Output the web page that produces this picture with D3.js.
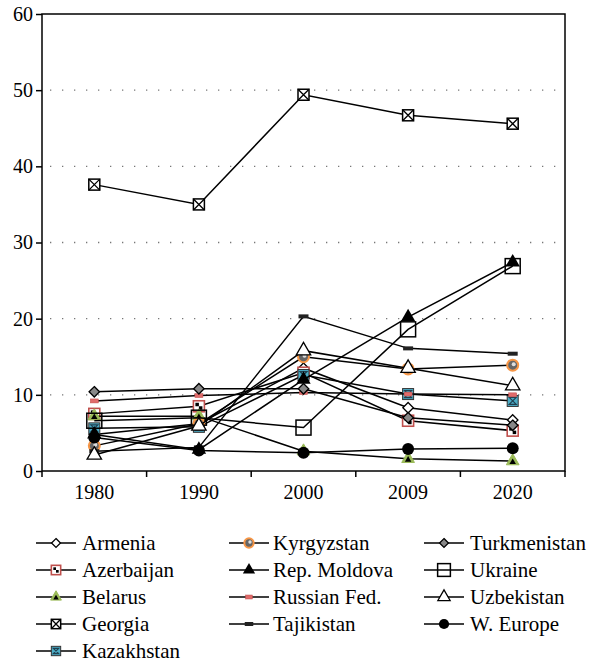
<!DOCTYPE html>
<html><head><meta charset="utf-8">
<script src="https://cdn.jsdelivr.net/npm/d3@7"></script>
<style>body{margin:0;background:#fff}svg{display:block}</style>
</head><body><svg id="c" width="591" height="663" style='font-family:"Liberation Serif"'></svg>
<script>
const years = ["1980","1990","2000","2009","2020"];
const yTicks = [0,10,20,30,40,50,60];
const seriesNames = ["Armenia","Azerbaijan","Belarus","Georgia","Kazakhstan","Kyrgyzstan","Rep. Moldova","Russian Fed.","Tajikistan","Turkmenistan","Ukraine","Uzbekistan","W. Europe"];
const armenia      = [4.8, 6.2, 13.5, 8.3, 6.7];
const azerbaijan   = [7.5, 8.5, 12.9, 6.6, 5.3];
const belarus      = [7.2, 7.2, 2.6, 1.6, 1.3];
const georgia      = [37.6, 35.0, 49.4, 46.7, 45.6];
const kazakhstan   = [5.6, 5.8, 12.6, 10.1, 9.2];
const kyrgyzstan   = [3.3, 6.2, 15.0, 13.4, 13.9];
const moldova      = [4.8, 2.8, 12.0, 20.2, 27.4];
const russia       = [9.2, 9.9, 10.3, 10.1, 10.0];
const tajikistan   = [2.6, 3.1, 20.3, 16.1, 15.4];
const turkmenistan = [10.4, 10.8, 10.8, 7.0, 6.0];
const ukraine      = [6.6, 7.0, 5.7, 18.6, 26.9];
const uzbekistan   = [2.1, 5.9, 15.8, 13.5, 11.2];
const weurope      = [4.4, 2.7, 2.4, 2.9, 3.0];
const seriesValues = [armenia, azerbaijan, belarus, georgia, kazakhstan, kyrgyzstan, moldova, russia, tajikistan, turkmenistan, ukraine, uzbekistan, weurope];
const markerTypes = ["diamondOpen","azer","belarus","georgia","kazak","kyrgyz","triFilled","russia","tajik","turkmen","squareOpen","triOpen","circleFilled"];

const FONT = '"Liberation Serif"';
const svg = d3.select("#c");
const L = 42, R = 565, T = 14, B = 471;
const x = d3.scaleBand().domain(years).range([L, R]);
const y = d3.scaleLinear().domain([0, 60]).range([B, T]);
const cx = d => x(d) + x.bandwidth() / 2;

// grid
svg.append("g").selectAll("line").data(yTicks.filter(v => v > 0 && v < 60)).join("line")
  .attr("x1", L + 8).attr("x2", R).attr("y1", d => y(d)).attr("y2", d => y(d))
  .attr("stroke", "#777").attr("stroke-width", 1.3).attr("stroke-dasharray", "1.3,10.7");

// frame
svg.append("rect").attr("x", L).attr("y", T).attr("width", R - L).attr("height", B - T)
  .attr("fill", "none").attr("stroke", "#000").attr("stroke-width", 1.5);

// y axis
const yAxis = d3.axisLeft(y).tickValues(yTicks).tickSize(6).tickPadding(3).tickFormat(d3.format("d"));
const gy = svg.append("g").attr("transform", `translate(${L},0)`).call(yAxis);
gy.attr("font-family", null).attr("font-size", null);
gy.select(".domain").remove();
gy.selectAll("line").attr("stroke-width", 1.5);
gy.selectAll("text").style("font-family", FONT).style("font-size", "20px").attr("fill", "#000");

// x axis
const xAxis = d3.axisBottom(x).tickSize(0).tickPadding(14);
const gx = svg.append("g").attr("transform", `translate(0,${B})`).call(xAxis);
gx.attr("font-family", null).attr("font-size", null);
gx.select(".domain").remove();
gx.selectAll("text").style("font-family", FONT).style("font-size", "20px").attr("fill", "#000");
svg.append("g").selectAll("line").data(years.map(d => x(d)).concat([R])).join("line")
  .attr("x1", d => d).attr("x2", d => d).attr("y1", B).attr("y2", B + 6)
  .attr("stroke", "#000").attr("stroke-width", 1.5);

function drawMarker(g, type, k) {
  switch (type) {
    case "diamondOpen":
      g.append("path").attr("d", d3.symbol(d3.symbolDiamond2, 70 * k * k)).attr("fill", "#fff").attr("stroke", "#000").attr("stroke-width", 1.3);
      break;
    case "turkmen":
      g.append("path").attr("d", d3.symbol(d3.symbolDiamond2, 70 * k * k)).attr("fill", "#888").attr("stroke", "#000").attr("stroke-width", 1.3);
      break;
    case "azer": {
      const h = 5.5 * k;
      g.append("rect").attr("x", -h).attr("y", -h).attr("width", 2 * h).attr("height", 2 * h).attr("fill", "#fff").attr("stroke", "#c0504d").attr("stroke-width", 1.6);
      g.append("rect").attr("x", -h + 2).attr("y", -h + 2).attr("width", h - 2).attr("height", h - 2).attr("fill", "#000");
      g.append("rect").attr("x", 0).attr("y", 0).attr("width", h - 2).attr("height", h - 2).attr("fill", "#000");
      break; }
    case "belarus":
      g.append("path").attr("d", d3.symbol(d3.symbolTriangle, 70 * k * k)).attr("fill", "#9bbb59").attr("stroke", "#9bbb59").attr("stroke-width", 1);
      g.append("path").attr("d", d3.symbol(d3.symbolTriangle, 18 * k * k)).attr("transform", "translate(0,1)").attr("fill", "#000");
      break;
    case "georgia": {
      const h = 5.5 * k;
      g.append("rect").attr("x", -h).attr("y", -h).attr("width", 2 * h).attr("height", 2 * h).attr("fill", "#fff").attr("stroke", "#000").attr("stroke-width", 1.5);
      g.append("path").attr("d", `M${-h},${-h}L${h},${h}M${h},${-h}L${-h},${h}`).attr("stroke", "#000").attr("stroke-width", 1.3);
      break; }
    case "kazak": {
      const h = 5.5 * k;
      g.append("rect").attr("x", -h).attr("y", -h).attr("width", 2 * h).attr("height", 2 * h).attr("fill", "#4bacc6").attr("stroke", "#333").attr("stroke-width", 1);
      g.append("path").attr("d", `M${-h + 2},${-h + 2}L${h - 2},${-h + 2}L${-h + 2},${h - 2}L${h - 2},${h - 2}Z`).attr("fill", "none").attr("stroke", "#1f3f4f").attr("stroke-width", 1.2);
      break; }
    case "kyrgyz":
      g.append("circle").attr("r", 5.5 * k).attr("fill", "#666").attr("stroke", "#f79646").attr("stroke-width", 2);
      g.append("circle").attr("r", 2 * k).attr("cx", 1).attr("cy", -1).attr("fill", "#ddd");
      break;
    case "triFilled":
      g.append("path").attr("d", d3.symbol(d3.symbolTriangle, 90 * k * k)).attr("fill", "#000");
      break;
    case "triOpen":
      g.append("path").attr("d", d3.symbol(d3.symbolTriangle, 90 * k * k)).attr("fill", "#fff").attr("stroke", "#000").attr("stroke-width", 1.3);
      break;
    case "russia":
      g.append("rect").attr("x", -4 * k).attr("y", -2).attr("width", 8 * k).attr("height", 4).attr("fill", "#e06b6b").attr("stroke", "#c0504d").attr("stroke-width", 0.5);
      break;
    case "tajik":
      g.append("rect").attr("x", -5 * k).attr("y", -2).attr("width", 10 * k).attr("height", 4).attr("fill", "#222");
      break;
    case "squareOpen": {
      const h = 7.5 * k;
      g.append("rect").attr("x", -h).attr("y", -h).attr("width", 2 * h).attr("height", 2 * h).attr("fill", "none").attr("stroke", "#000").attr("stroke-width", 1.5);
      break; }
    case "circleFilled":
      g.append("circle").attr("r", 6 * k).attr("fill", "#000");
      break;
  }
}

const line = d3.line().x(d => cx(d.year)).y(d => y(d.v));
const plot = svg.append("g");
seriesNames.forEach((name, i) => {
  const pts = years.map((yr, j) => ({ year: yr, v: seriesValues[i][j] }));
  const g = plot.append("g");
  g.append("path").datum(pts).attr("d", line).attr("fill", "none").attr("stroke", "#000").attr("stroke-width", 1.5);
  pts.forEach(p => {
    const m = g.append("g").attr("transform", `translate(${cx(p.year)},${y(p.v)})`);
    drawMarker(m, markerTypes[i], 1);
  });
});

// legend
const colX = [56, 249, 444];
const textX = [82, 273, 470];
const rowY0 = 543, rowDy = 27;
const leg = svg.append("g");
seriesNames.forEach((name, i) => {
  const col = i < 5 ? 0 : (i < 9 ? 1 : 2);
  const row = i < 5 ? i : (i < 9 ? i - 5 : i - 9);
  const yy = rowY0 + row * rowDy;
  leg.append("line").attr("x1", colX[col] - 20).attr("x2", colX[col] + 20).attr("y1", yy).attr("y2", yy).attr("stroke", "#000").attr("stroke-width", 1.5);
  const m = leg.append("g").attr("transform", `translate(${colX[col]},${yy})`);
  drawMarker(m, markerTypes[i], 0.85);
  leg.append("text").attr("x", textX[col]).attr("y", yy + 7)
    .style("font-family", FONT).style("font-size", "21px").attr("fill", "#000").text(name);
});
</script></body></html>
